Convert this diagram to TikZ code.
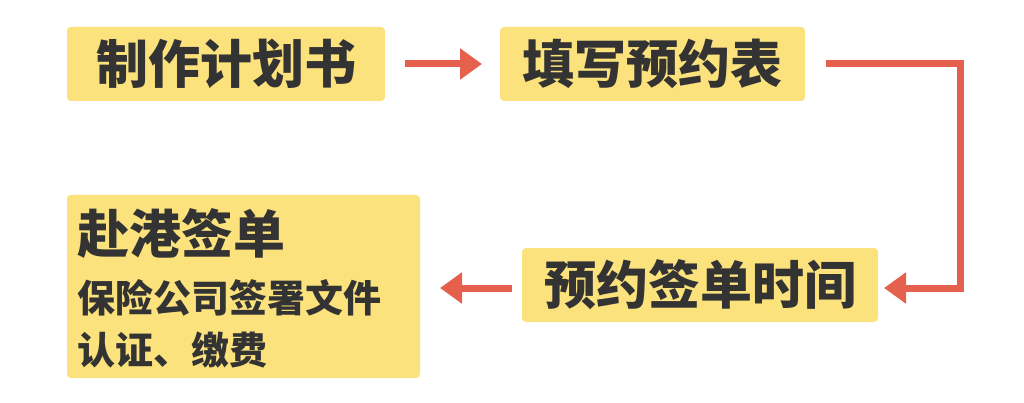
\documentclass[tikz,border=0pt]{standalone}
\usepackage{fontspec}
\newfontfamily\cjk{Noto Sans CJK SC}
\usetikzlibrary{arrows.meta}
\definecolor{boxy}{HTML}{FBE27C}
\definecolor{arr}{HTML}{E5614E}
\definecolor{txt}{HTML}{333333}
\tikzset{
  box/.style={fill=boxy,rounded corners=4pt,inner sep=0pt},
  lbl/.style={font=\cjk\bfseries\fontsize{52}{60}\selectfont,text=txt},
  conn/.style={draw=arr,line width=7pt,-{Triangle[length=22pt,width=30pt]}}
}
\begin{document}
\begin{tikzpicture}[x=1pt,y=-1pt]
\useasboundingbox (0,0) rectangle (1024,403);
\fill[box] (67,27) rectangle (385,101);
\node[lbl] (a) at (226,64) {制作计划书};
\fill[box] (500,27) rectangle (805,101);
\node[lbl] (b) at (652,64) {填写预约表};
\fill[box] (522,248) rectangle (878,322);
\node[lbl] (c) at (700,285) {预约签单时间};
\fill[box] (67,195) rectangle (420,378);
\node[lbl,anchor=west] (d) at (74,234) {赴港签单};
\node[font=\cjk\bfseries\fontsize{38}{52}\selectfont,text=txt,anchor=north west,align=left] (e) at (74,276) {保险公司签署文件\\认证、缴费};
\coordinate (a1) at (405,64);
\coordinate (a2) at (482,64);
\draw[conn] (a1) -- (a2);
\coordinate (b1) at (826,64);
\coordinate (c1) at (884,288);
\draw[conn] (b1) -- (960,64) -- (960,288) -- (c1);
\coordinate (c2) at (512,288);
\coordinate (d1) at (440,288);
\draw[conn] (c2) -- (d1);
\end{tikzpicture}
\end{document}
